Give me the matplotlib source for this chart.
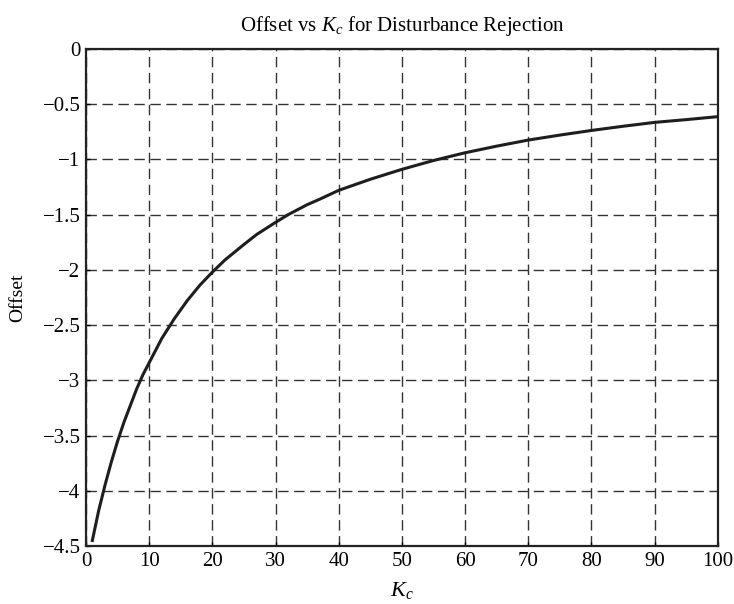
import matplotlib.pyplot as plt

plt.rcParams['font.family'] = 'Liberation Serif'
plt.rcParams['mathtext.fontset'] = 'custom'
plt.rcParams['mathtext.rm'] = 'Liberation Serif'
plt.rcParams['mathtext.it'] = 'Liberation Serif:italic'

# controller gain and the resulting steady-state offset
kc = [1, 2, 3, 4, 5, 6, 7, 8, 9, 10, 11, 12, 13, 14, 15, 16, 18, 20, 22,
      25, 27, 30, 32, 35, 37, 40, 45, 50, 55, 60, 65, 70, 75, 80, 85, 90,
      95, 100]
offset = [-4.45, -4.18, -3.95, -3.74, -3.55, -3.38, -3.23, -3.08, -2.95,
          -2.84, -2.73, -2.62, -2.53, -2.44, -2.36, -2.28, -2.14, -2.02,
          -1.91, -1.77, -1.68, -1.57, -1.50, -1.41, -1.36, -1.28, -1.18,
          -1.09, -1.01, -0.94, -0.88, -0.825, -0.78, -0.738, -0.70, -0.665,
          -0.64, -0.613]

xticks = [0, 10, 20, 30, 40, 50, 60, 70, 80, 90, 100]
yticks = [0, -0.5, -1, -1.5, -2, -2.5, -3, -3.5, -4, -4.5]
ytick_labels = ['0', '\u22120.5', '\u22121', '\u22121.5', '\u22122', '\u22122.5',
                '\u22123', '\u22123.5', '\u22124', '\u22124.5']

fig = plt.figure(figsize=(7.34, 6.04), dpi=100)
ax = fig.add_axes([0.1172, 0.096, 0.8608, 0.823])

ax.plot(kc, offset, color='#1e1e1e', linewidth=2.2, zorder=3,
        solid_joinstyle='round')

ax.set_xlim(0, 100)
ax.set_ylim(-4.5, 0)
ax.set_xticks(xticks)
ax.set_yticks(yticks)
ax.set_yticklabels(ytick_labels)
ax.tick_params(direction='in', length=3, width=1, labelsize=15, pad=4,
               top=False, right=False)

ax.grid(True, color='#333333', linestyle=(0, (7.5, 4)), linewidth=1.0)
for s in ax.spines.values():
    s.set_linewidth(1.6)
    s.set_color('#222222')

ax.set_title('Offset vs $K_c$ for Disturbance Rejection', fontsize=15, pad=13)
ax.set_xlabel('$K_c$', fontsize=16, labelpad=7)
ax.set_ylabel('Offset', fontsize=14, labelpad=12)

fig.savefig('out.png', dpi=100)
